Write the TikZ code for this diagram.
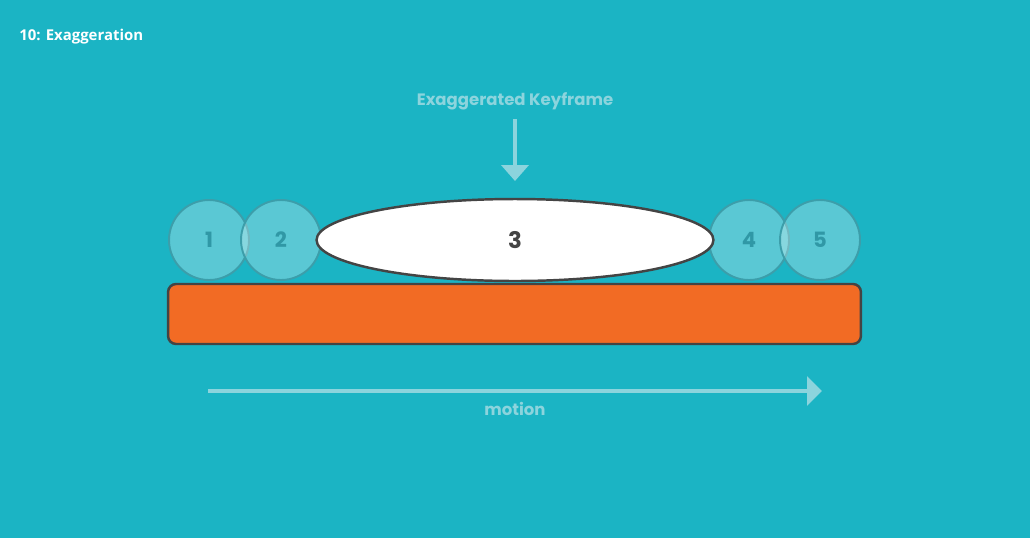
\documentclass[tikz,border=0pt]{standalone}
\usepackage{fontspec}
\setmainfont{Open Sans}
\newfontfamily\geofont{Poppins}
\usetikzlibrary{shapes.geometric,arrows.meta}
\definecolor{bgteal}{RGB}{27,180,196}
\definecolor{paleteal}{RGB}{140,212,221}
\definecolor{ringteal}{RGB}{60,158,170}
\definecolor{numteal}{RGB}{48,152,166}
\definecolor{barorange}{RGB}{242,107,36}
\definecolor{edgegray}{RGB}{68,68,68}
\tikzset{
  keyball/.style={circle,minimum size=1.6cm,inner sep=0pt,draw=ringteal,line width=1.1pt,
    fill=white,fill opacity=.28,text opacity=1,text=numteal,font=\geofont\bfseries\fontsize{12}{12}\selectfont},
  paletext/.style={text=paleteal,font=\geofont\bfseries\fontsize{9.4}{9.4}\selectfont,inner sep=0pt},
  palearrow/.style={draw=paleteal,line width=2.3pt,-{Triangle[width=0.54cm,length=0.32cm]}}
}
\begin{document}
\begin{tikzpicture}[x=0.02cm,y=-0.02cm]
\fill[bgteal] (0,0) rectangle (1030,538);
\useasboundingbox (0,0) rectangle (1030,538);
\node[anchor=west,text=white,font=\bfseries\fontsize{8.5}{8.5}\selectfont,inner sep=0pt] (title) at (19,36.5) {10: Exaggeration};
% keyframes
\node[keyball] (k1) at (209,240) {1};
\node[keyball] (k2) at (281,240) {2};
\node[keyball] (k4) at (749,240) {4};
\node[keyball] (k5) at (820,240) {5};
\node[ellipse,minimum width=7.94cm,minimum height=1.64cm,inner sep=0pt,fill=white,draw=edgegray,line width=1.4pt,
  text=edgegray,font=\geofont\bfseries\fontsize{13}{13}\selectfont] (k3) at (515,240) {3};
\node[rectangle,rounded corners=0.16cm,minimum width=13.86cm,minimum height=1.2cm,fill=barorange,
  draw=edgegray,line width=1.4pt] (bar) at (514.5,314) {};
% labels and arrows
\node[paletext] (key) at (515,101) {Exaggerated Keyframe};
\coordinate (keytip) at (515,181);
\draw[palearrow] ([yshift=-0.18cm]key.south) -- (keytip);
\coordinate (m1) at (208,391);
\coordinate (m2) at (822,391);
\draw[palearrow,-{Triangle[width=0.58cm,length=0.3cm]}] (m1) -- (m2);
\node[paletext] (motion) at (515,409) {motion};
\end{tikzpicture}
\end{document}
